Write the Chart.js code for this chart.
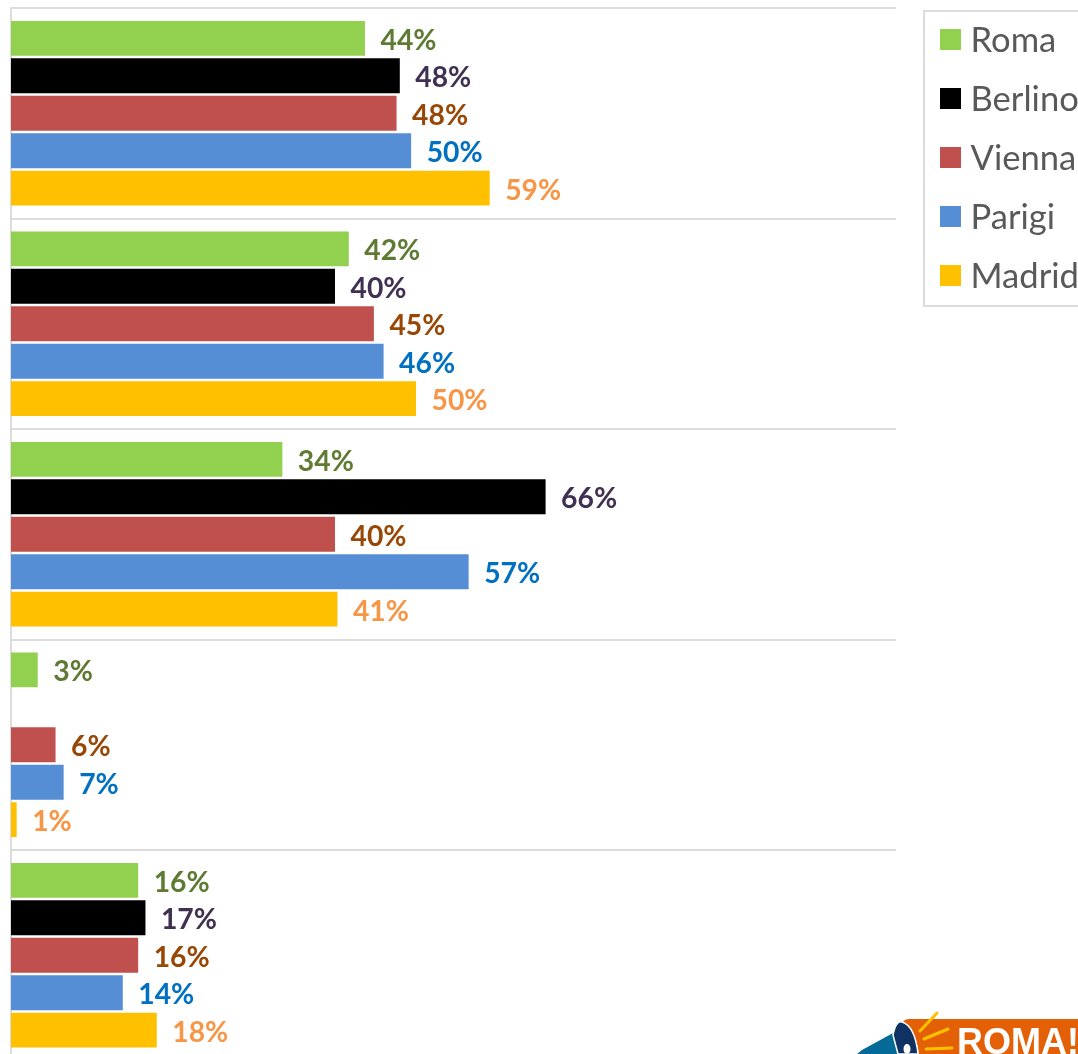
<!DOCTYPE html>
<html><head><meta charset="utf-8">
<script src="https://cdn.jsdelivr.net/npm/chart.js@4"></script>
<style>
html,body{margin:0;padding:0;background:#fff;width:1078px;height:1054px;overflow:hidden}
#wrap{position:relative;width:1078px;height:1054px;overflow:hidden}
canvas{position:absolute;left:0;top:0}
#legend{position:absolute;left:923px;top:10px;width:200px;height:293px;border:2px solid #dcdcdc;box-sizing:content-box}
.li{position:absolute;left:45.5px;font:34.6px Lato,sans-serif;color:#595959;white-space:nowrap;line-height:40px}
.sw{position:absolute;left:15px;width:21px;height:21px}
#logo{position:absolute;left:0;top:0}
</style></head><body>
<div id="wrap">
<canvas id="c" width="1078" height="1064"></canvas>
<div id="legend"></div>
<svg id="logo" width="1078" height="1054" viewBox="0 0 1078 1054">
  <path d="M903 1022 Q905 1019 909 1019 H1078 V1054 H919 Q916 1032 903 1022 Z" fill="#E36006"/>
  <path d="M920 1031 L937 1013 M924 1039 L948 1029 M926 1049 L952 1048" stroke="#FFC000" stroke-width="3" stroke-linecap="round"/>
  <path d="M857 1054 L862 1050 L893 1033 L900 1054 Z" fill="#066A99"/>
  <path d="M893 1035 Q896 1020 902 1022 Q915 1026 918 1054 H898 Z" fill="#0F3263" stroke="#fff" stroke-width="1.5"/>
  <ellipse cx="907" cy="1049" rx="3.5" ry="5" fill="#fff"/>
  <text x="957" y="1054" font-family="Liberation Sans" font-weight="700" font-size="36" fill="#fff">ROMA!</text>
</svg>
</div>
<script>
const categories = ["Gruppo 1","Gruppo 2","Gruppo 3","Gruppo 4","Gruppo 5"];
const seriesNames = ["Roma","Berlino","Vienna","Parigi","Madrid"];
const roma    = [43.7,41.7,33.5,3.3,15.7];
const berlino = [48.0,40.0,66.0,null,16.6];
const vienna  = [47.6,44.8,40.0,5.5,15.7];
const parigi  = [49.4,46.0,56.5,6.5,13.8];
const madrid  = [59.1,50.0,40.3,0.7,18.0];
const romaLabels    = ["44%","42%","34%","3%","16%"];
const berlinoLabels = ["48%","40%","66%","","17%"];
const viennaLabels  = ["48%","45%","40%","6%","16%"];
const parigiLabels  = ["50%","46%","57%","7%","14%"];
const madridLabels  = ["59%","50%","41%","1%","18%"];
const barColors   = ["#92D050","#000000","#C0504D","#558ED5","#FFC000"];
const labelColors = ["#5F7A33","#403152","#974806","#0070C0","#F79646"];
const allSeries = [roma,berlino,vienna,parigi,madrid];
const allLabels = [romaLabels,berlinoLabels,viennaLabels,parigiLabels,madridLabels];

const valueLabels = {
  id:'valueLabels',
  afterDatasetsDraw(chart){
    const ctx = chart.ctx;
    ctx.save();
    ctx.font = '700 28.3px Lato, sans-serif';
    ctx.textBaseline = 'middle';
    ctx.textAlign = 'left';
    chart.data.datasets.forEach((ds,i)=>{
      chart.getDatasetMeta(i).data.forEach((bar,j)=>{
        if(ds.data[j]===null) return;
        ctx.fillStyle = labelColors[i];
        ctx.fillText(allLabels[i][j], bar.x+15.5, bar.y+2.5);
      });
    });
    ctx.restore();
  }
};

const chart = new Chart(document.getElementById('c'),{
  type:'bar',
  data:{
    labels:categories,
    datasets:seriesNames.map((n,i)=>({
      label:n,data:allSeries[i],backgroundColor:barColors[i],
      categoryPercentage:0.89,barPercentage:0.93,borderWidth:0
    }))
  },
  options:{
    indexAxis:'y',responsive:false,animation:false,devicePixelRatio:1,
    layout:{padding:{left:11,top:8,right:182,bottom:3.5}},
    plugins:{legend:{display:false},tooltip:{enabled:false},title:{display:false}},
    scales:{
      x:{display:false,min:0,max:109.26},
      y:{
        ticks:{display:false},
        afterFit(s){s.width=0;},
        grid:{color:'#DCDCDC',lineWidth:2,drawTicks:false,offset:true},
        border:{color:'#DCDCDC',width:2}
      }
    }
  },
  plugins:[valueLabels]
});

const legend = document.getElementById('legend');
seriesNames.forEach((n,i)=>{
  const top = 28 + i*59;
  const sw = document.createElement('div');
  sw.className='sw';sw.style.top=(top-11)+'px';sw.style.background=barColors[i];
  const t = document.createElement('div');
  t.className='li';t.style.top=(top-21)+'px';t.textContent=n;
  legend.append(sw,t);
});
</script>
</body></html>
